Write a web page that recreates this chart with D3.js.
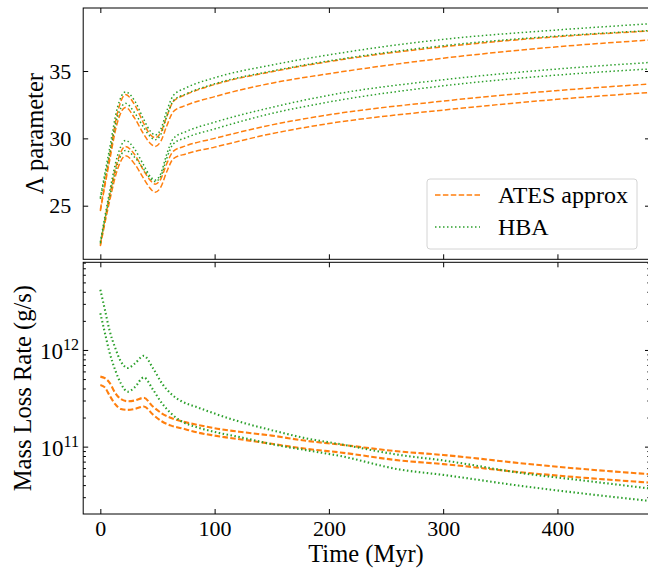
<!DOCTYPE html>
<html lang="en">
<head>
<meta charset="UTF-8">
<script src="https://d3js.org/d3.v7.min.js"></script>
<style>
  body { margin: 0; background: #fff; }
  text { font-family: "Liberation Serif", serif; fill: #000; }
  .tick line { stroke: #000; stroke-width: 1; }
  .frame { fill: none; stroke: #000; stroke-width: 1; }
</style>
</head>
<body>

<svg width="648" height="571"></svg>

<script>
    // ---- data ----
    var t_lambda = [0, 8, 15, 22, 30, 38, 44, 48, 53, 58, 64, 75, 100, 150, 200, 300, 400, 480];

    var lam_ates_1 = [24.7, 28.6, 31.9, 33.25, 32.5, 31.1, 30.25, 30.05, 30.45, 31.6, 32.75, 33.25, 34.0, 34.95, 35.7, 36.8, 37.55, 37.97];
    var lam_ates_2 = [24.6, 28.3, 31.2, 32.3, 31.5, 30.3, 29.6, 29.4, 29.8, 30.9, 32.0, 32.45, 33.1, 34.1, 34.8, 35.95, 36.8, 37.3];
    var lam_ates_3 = [22.1, 25.7, 28.3, 29.4, 28.8, 27.6, 26.85, 26.6, 27.0, 28.1, 29.05, 29.45, 30.0, 31.0, 31.75, 32.77, 33.55, 34.03];
    var lam_ates_4 = [22.0, 25.3, 27.7, 28.7, 28.1, 27.0, 26.25, 26.0, 26.4, 27.5, 28.5, 28.85, 29.35, 30.35, 31.1, 32.1, 32.9, 33.4];

    var lam_hba_1 = [25.6, 29.2, 32.3, 33.45, 32.8, 31.4, 30.5, 30.25, 30.7, 32.0, 33.2, 33.75, 34.5, 35.45, 36.2, 37.35, 38.05, 38.5];
    var lam_hba_2 = [25.5, 28.8, 31.6, 32.6, 31.9, 30.8, 30.1, 29.9, 30.3, 31.6, 32.8, 33.3, 34.05, 35.0, 35.75, 36.88, 37.6, 38.0];
    var lam_hba_3 = [22.3, 26.0, 28.7, 29.85, 29.2, 28.0, 27.15, 26.9, 27.4, 28.8, 30.0, 30.5, 31.2, 32.3, 33.2, 34.35, 35.15, 35.63];
    var lam_hba_4 = [22.2, 25.6, 28.1, 29.1, 28.6, 27.7, 27.0, 26.8, 27.2, 28.5, 29.6, 30.05, 30.7, 31.85, 32.7, 33.9, 34.7, 35.15];

    var t_mdot = [0, 4, 8, 13, 18, 24, 30, 38, 46, 54, 62, 71, 85, 100, 127, 150, 180, 210, 262, 300, 370, 420, 480];

    var mdot_ates_1 = [5.3e11, 5.1e11, 4.6e11, 3.6e11, 3.1e11, 2.95e11, 3.0e11, 3.2e11, 2.6e11, 2.2e11, 1.98e11, 1.83e11, 1.68e11, 1.55e11, 1.4e11, 1.3e11, 1.15e11, 1.05e11, 8.9e10, 8.2e10, 6.7e10, 5.9e10, 5.2e10];
    var mdot_ates_2 = [4.35e11, 4.1e11, 3.4e11, 2.75e11, 2.45e11, 2.4e11, 2.45e11, 2.6e11, 2.15e11, 1.82e11, 1.65e11, 1.55e11, 1.4e11, 1.3e11, 1.17e11, 1.07e11, 9.5e10, 8.7e10, 7.2e10, 6.6e10, 5.4e10, 4.8e10, 4.25e10];
    var mdot_hba_1 = [4.2e12, 2.6e12, 1.6e12, 1.05e12, 7.6e11, 6.5e11, 7.2e11, 8.7e11, 6.5e11, 4.5e11, 3.5e11, 2.95e11, 2.55e11, 2.2e11, 1.74e11, 1.48e11, 1.22e11, 1.06e11, 8.2e10, 7.2e10, 5.3e10, 4.5e10, 3.7e10];
    var mdot_hba_2 = [2.4e12, 1.5e12, 9.5e11, 6.2e11, 4.5e11, 3.7e11, 4.1e11, 5.2e11, 3.9e11, 2.8e11, 2.2e11, 1.83e11, 1.58e11, 1.42e11, 1.22e11, 1.06e11, 9.2e10, 8.0e10, 5.8e10, 5.1e10, 3.9e10, 3.3e10, 2.75e10];

    var x_ticks = [0, 100, 200, 300, 400];
    var lam_ticks = [25, 30, 35];
    var legend_labels = ['ATES approx', 'HBA'];

    var orange = '#ff7f0e', green = '#2ca02c';
    var dash = '5.5,2.4', dot = '1.5,2.5';

    // ---- layout ----
    var svg = d3.select("svg"),
        left = 83.2, right = 650,
        top1 = 8, bot1 = 259.3,
        top2 = 262.3, bot2 = 514;

    var x = d3.scaleLinear().domain([-15, 481]).range([left, right]);
    var yLam = d3.scaleLinear().domain([21.02, 39.68]).range([bot1, top1]);
    var yMdot = d3.scaleLog().domain([2.01e10, 8.07e12]).range([bot2, top2]);

    var defs = svg.append("defs");
    defs.append("clipPath").attr("id", "clip1").append("rect")
        .attr("x", left).attr("y", top1).attr("width", right - left).attr("height", bot1 - top1);
    defs.append("clipPath").attr("id", "clip2").append("rect")
        .attr("x", left).attr("y", top2).attr("width", right - left).attr("height", bot2 - top2);

    function series(ts, vs) {
        return ts.map(function (t, i) { return [t, vs[i]]; });
    }

    // ---- top panel: Lambda ----
    var g1 = svg.append("g").attr("clip-path", "url(#clip1)");
    var lineLam = d3.line()
        .x(function (d) { return x(d[0]); })
        .y(function (d) { return yLam(d[1]); })
        .curve(d3.curveMonotoneX);

    [[lam_ates_1, 'a'], [lam_ates_2, 'a'], [lam_ates_3, 'a'], [lam_ates_4, 'a'],
     [lam_hba_1, 'h'], [lam_hba_2, 'h'], [lam_hba_3, 'h'], [lam_hba_4, 'h']].forEach(function (s) {
        g1.append("path")
            .attr("d", lineLam(series(t_lambda, s[0])))
            .attr("fill", "none")
            .attr("stroke", s[1] === 'a' ? orange : green)
            .attr("stroke-width", 1.5)
            .attr("stroke-dasharray", s[1] === 'a' ? dash : dot);
    });

    // ---- bottom panel: mass loss ----
    var g2 = svg.append("g").attr("clip-path", "url(#clip2)");
    var lineMdot = d3.line()
        .x(function (d) { return x(d[0]); })
        .y(function (d) { return yMdot(d[1]); })
        .curve(d3.curveMonotoneX);

    [[mdot_ates_1, 'a'], [mdot_ates_2, 'a'], [mdot_hba_1, 'h'], [mdot_hba_2, 'h']].forEach(function (s) {
        g2.append("path")
            .attr("d", lineMdot(series(t_mdot, s[0])))
            .attr("fill", "none")
            .attr("stroke", s[1] === 'a' ? orange : green)
            .attr("stroke-width", 2.1)
            .attr("stroke-dasharray", s[1] === 'a' ? dash : dot);
    });

    // ---- axes (ticks inward on all sides) ----
    function noDomain(sel) { sel.select(".domain").remove(); }

    // x ticks, both panels
    svg.append("g").attr("transform", "translate(0," + top1 + ")")
        .call(d3.axisTop(x).tickValues(x_ticks).tickSize(-5).tickFormat("")).call(noDomain);
    svg.append("g").attr("transform", "translate(0," + bot1 + ")")
        .call(d3.axisBottom(x).tickValues(x_ticks).tickSize(-5).tickFormat("")).call(noDomain);
    svg.append("g").attr("transform", "translate(0," + top2 + ")")
        .call(d3.axisTop(x).tickValues(x_ticks).tickSize(-5).tickFormat("")).call(noDomain);
    var xb = svg.append("g").attr("transform", "translate(0," + bot2 + ")")
        .call(d3.axisBottom(x).tickValues(x_ticks).tickSize(-5).tickPadding(6)).call(noDomain);
    xb.selectAll("text").style("font-size", "22px").attr("font-family", null);

    // lambda y ticks
    var yl = svg.append("g").attr("transform", "translate(" + left + ",0)")
        .call(d3.axisLeft(yLam).tickValues(lam_ticks).tickSize(-5).tickPadding(12)).call(noDomain);
    yl.selectAll("text").style("font-size", "22px").attr("font-family", null);
    svg.append("g").attr("transform", "translate(" + right + ",0)")
        .call(d3.axisRight(yLam).tickValues(lam_ticks).tickSize(-5).tickFormat("")).call(noDomain);

    // log y ticks
    var allLog = yMdot.ticks();
    var majorLog = allLog.filter(function (v) { return Math.abs(Math.log10(v) - Math.round(Math.log10(v))) < 1e-9; });
    var minorLog = allLog.filter(function (v) { return majorLog.indexOf(v) < 0; });

    [[left, d3.axisLeft], [right, d3.axisRight]].forEach(function (a) {
        svg.append("g").attr("transform", "translate(" + a[0] + ",0)")
            .call(a[1](yMdot).tickValues(majorLog).tickSize(-5).tickFormat("")).call(noDomain);
        svg.append("g").attr("transform", "translate(" + a[0] + ",0)")
            .call(a[1](yMdot).tickValues(minorLog).tickSize(-2.7).tickFormat("")).call(noDomain);
    });

    majorLog.forEach(function (v) {
        var t = svg.append("text")
            .attr("x", 79)
            .attr("y", yMdot(v) + 9)
            .attr("text-anchor", "end")
            .style("font-size", "23px");
        t.append("tspan").text("10");
        t.append("tspan").attr("dy", -9).style("font-size", "16px").text(Math.round(Math.log10(v)));
    });

    // frames
    svg.append("rect").attr("class", "frame")
        .attr("x", left).attr("y", top1).attr("width", right - left).attr("height", bot1 - top1);
    svg.append("rect").attr("class", "frame")
        .attr("x", left).attr("y", top2).attr("width", right - left).attr("height", bot2 - top2);

    // axis titles
    svg.append("text")
        .attr("transform", "translate(43," + (top1 + bot1) / 2 + ") rotate(-90)")
        .attr("text-anchor", "middle")
        .style("font-size", "24.5px")
        .text("\u039B parameter");
    svg.append("text")
        .attr("transform", "translate(31," + (top2 + bot2) / 2 + ") rotate(-90)")
        .attr("text-anchor", "middle")
        .style("font-size", "24.5px")
        .text("Mass Loss Rate (g/s)");
    svg.append("text")
        .attr("x", 366)
        .attr("y", 562)
        .attr("text-anchor", "middle")
        .style("font-size", "24.5px")
        .text("Time (Myr)");

    // legend
    var lg = svg.append("g");
    lg.append("rect")
        .attr("x", 427).attr("y", 179).attr("width", 210).attr("height", 70)
        .attr("rx", 3)
        .attr("fill", "#fff").attr("fill-opacity", 0.8)
        .attr("stroke", "#d4d4d4").attr("stroke-width", 1);
    legend_labels.forEach(function (lab, i) {
        var yy = 195 + i * 32;
        lg.append("line")
            .attr("x1", 435).attr("x2", 480).attr("y1", yy).attr("y2", yy)
            .attr("stroke", i === 0 ? orange : green)
            .attr("stroke-width", 1.5)
            .attr("stroke-dasharray", i === 0 ? dash : dot);
        lg.append("text")
            .attr("x", 498).attr("y", yy + 8)
            .style("font-size", "24px")
            .text(lab);
    });
</script>

</body>
</html>
